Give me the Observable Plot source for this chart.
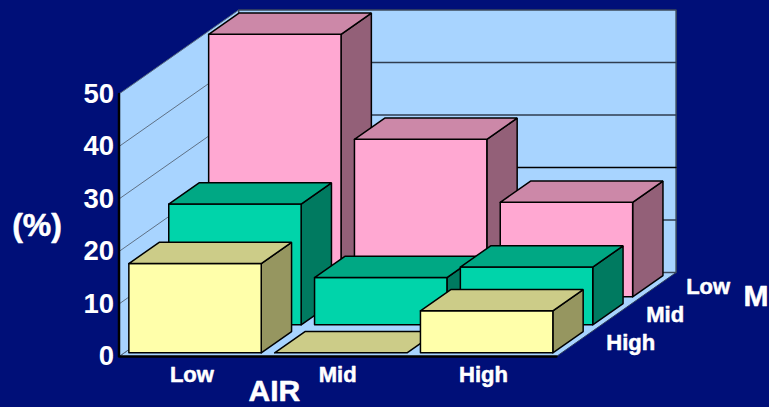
<!DOCTYPE html>
<html>
<head>
<meta charset="utf-8">
<style>
  html, body { margin: 0; padding: 0; background: #000f78; }
  svg { display: block; }
</style>
<script src="https://cdn.jsdelivr.net/npm/d3@7"></script>
<script src="https://cdn.jsdelivr.net/npm/@observablehq/plot@0.6"></script>
</head>
<body>
<script>
// Categories along the front edge (AIR) and along the depth edge (M).
const airLevels = ["Low", "Mid", "High"];
const mLevels = ["High", "Mid", "Low"]; // front row first
const valueTicks = [0, 10, 20, 30, 40, 50];

// Percentages per AIR level, one list per M row.
const mHighValues = [17, 0, 8];
const mMidValues = [23, 9, 11];
const mLowValues = [50, 30, 18];
const rowValues = [mHighValues, mMidValues, mLowValues];

// Face colours per row: front, top, side.
const rowColors = [
  {front: "#ffffaa", top: "#cccc88", side: "#969660"},
  {front: "#00d4aa", top: "#00a884", side: "#007a60"},
  {front: "#ffa8d2", top: "#cc88a8", side: "#936078"}
];
const wallColor = "#a8d4ff";
const background = "#000f78";

// Oblique projection: one depth row shifts a point right and up,
// expressed in AIR-category units and in percentage units.
const depthRows = 3;
const shiftX = 39.9 / 145.8;
const shiftY = 28 / 5.25;
const point = (air, depth, value) => ({x: air + depth * shiftX, y: value + depth * shiftY});
const polygon = (corners) => {
  const pts = corners.map(([a, d, v]) => point(a, d, v));
  pts.push(pts[0]); // closes the outline
  return pts;
};
const face = (corners, fill, stroke = "black", strokeWidth = 1.5) =>
  Plot.line(polygon(corners), {x: "x", y: "y", fill, stroke, strokeWidth, strokeLinejoin: "miter"});
const edge = (corners, stroke, strokeWidth) =>
  Plot.line(corners.map(([a, d, v]) => point(a, d, v)), {x: "x", y: "y", stroke, strokeWidth});

const nAir = airLevels.length;
const topValue = valueTicks[valueTicks.length - 1];
const marks = [];

// Floor and walls.
marks.push(face([[0, 0, 0], [nAir, 0, 0], [nAir, depthRows, 0], [0, depthRows, 0]], wallColor, "#30405a", 1));
marks.push(face([[0, 0, 0], [0, depthRows, 0], [0, depthRows, topValue], [0, 0, topValue]], wallColor, "#5a6c80", 1));
marks.push(face([[0, depthRows, 0], [nAir, depthRows, 0], [nAir, depthRows, topValue], [0, depthRows, topValue]], wallColor, "#3c4a5c", 1.5));

// Gridlines on the left and back walls.
for (const v of valueTicks.slice(1, -1)) {
  marks.push(edge([[0, 0, v], [0, depthRows, v]], "#5f7186", 1));
  marks.push(edge([[0, depthRows, v], [nAir, depthRows, v]], v === 20 ? "#000000" : "#2f3d50", 1.3));
}

// Boxes, drawn from the back row forward and left to right.
const gapAir = 0.032, widthAir = 0.908, gapDepth = 0.13, depthSize = 0.76;
for (let row = depthRows - 1; row >= 0; row--) {
  const {front, top, side} = rowColors[row];
  rowValues[row].forEach((v, i) => {
    const a0 = i + gapAir, a1 = a0 + widthAir;
    const d0 = row + gapDepth, d1 = d0 + depthSize;
    if (v > 0) {
      marks.push(face([[a1, d0, 0], [a1, d1, 0], [a1, d1, v], [a1, d0, v]], side));
      marks.push(face([[a0, d0, 0], [a1, d0, 0], [a1, d0, v], [a0, d0, v]], front));
    }
    marks.push(face([[a0, d0, v], [a1, d0, v], [a1, d1, v], [a0, d1, v]], top));
  });
}

// Axis lines drawn heavier than the wall outlines.
marks.push(edge([[0, 0, topValue], [0, 0, 0], [nAir, 0, 0]], "black", 2.5));

// A thin white outline gives the labels their heavy look.
const textStyle = {
  fill: "white", stroke: "white", strokeWidth: 0.5,
  fontFamily: "Liberation Sans, Arial, sans-serif", fontWeight: "bold"
};

// Value axis.
marks.push(Plot.axisY({
  ticks: valueTicks, tickSize: 0, tickPadding: 5, label: null, anchor: "left",
  fontSize: 27.5, ...textStyle
}));

// Category labels along the front edge.
marks.push(Plot.text(airLevels, {
  x: (d, i) => i + 0.5, y: () => 0, text: (d) => d,
  dy: 18, fontSize: 22, letterSpacing: "1.4px", ...textStyle
}));

// Category labels along the depth edge.
marks.push(Plot.text(mLevels, {
  x: (d, i) => point(nAir, i + 0.5, 0).x, y: (d, i) => point(nAir, i + 0.5, 0).y, text: (d) => d,
  dx: 30, textAnchor: "start", fontSize: 22, letterSpacing: "1.4px", ...textStyle
}));

// Axis titles.
const titleAt = (label, air, depth, value, options) => {
  const p = point(air, depth, value);
  return Plot.text([label], {x: () => p.x, y: () => p.y, text: (d) => d, ...textStyle, ...options});
};
marks.push(titleAt("AIR", 1.066, 0, 0, {dy: 34.5, fontSize: 30}));
marks.push(titleAt("M", nAir, depthRows, 0, {dx: 67.5, dy: 24, textAnchor: "start", fontSize: 30}));
marks.push(titleAt("(%)", 0, 0, 25, {dx: -82, fontSize: 32}));

const chart = Plot.plot({
  width: 769,
  height: 407,
  marginLeft: 118.5,
  marginRight: 93.4,
  marginTop: 9.5,
  marginBottom: 51,
  style: {background, overflow: "visible"},
  x: {domain: [0, nAir + depthRows * shiftX], axis: null},
  y: {domain: [0, topValue + depthRows * shiftY]},
  marks
});
document.body.appendChild(chart);
</script>
</body>
</html>
